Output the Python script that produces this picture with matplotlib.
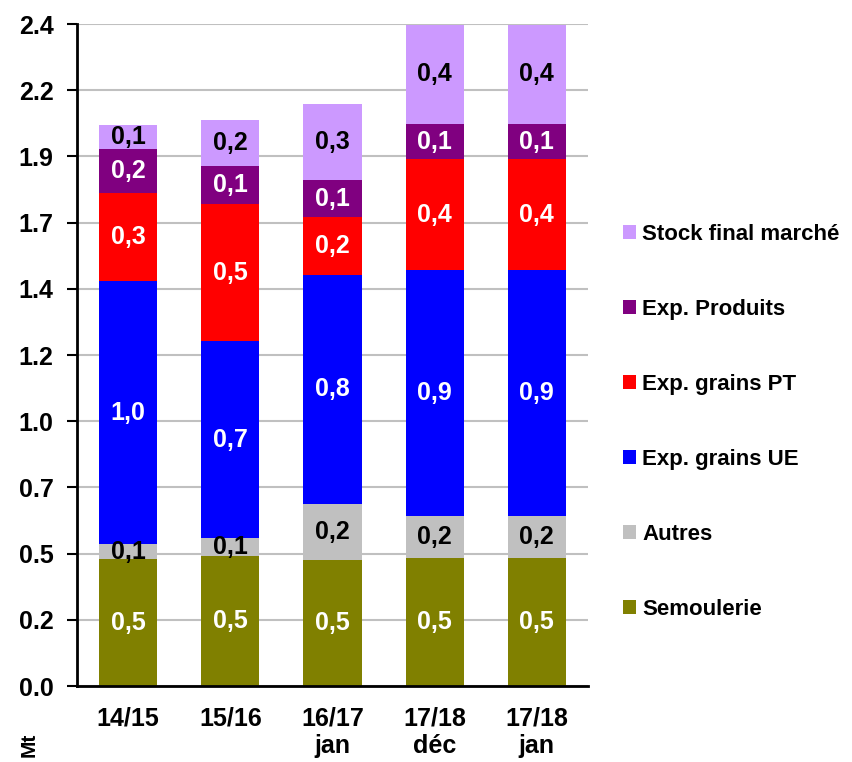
import numpy as np
import matplotlib
matplotlib.use("Agg")
import matplotlib.pyplot as plt
from matplotlib.patches import Patch

plt.rcParams['font.family'] = ['Liberation Sans', 'DejaVu Sans']
plt.rcParams['font.weight'] = 'bold'

# --- données ---
campagnes = ["14/15", "15/16", "16/17\njan", "17/18\ndéc", "17/18\njan"]
semoulerie = [0.460, 0.471, 0.457, 0.464, 0.464]
autres = [0.055, 0.065, 0.203, 0.151, 0.151]
exp_ue = [0.953, 0.714, 0.830, 0.893, 0.893]
exp_pt = [0.319, 0.497, 0.210, 0.402, 0.402]
exp_produits = [0.160, 0.138, 0.134, 0.127, 0.127]
stock_final = [0.087, 0.167, 0.276, 0.360, 0.360]

series = [
    ("Semoulerie", semoulerie, "#808000", "white"),
    ("Autres", autres, "#C0C0C0", "black"),
    ("Exp. grains UE", exp_ue, "#0000FF", "white"),
    ("Exp. grains PT", exp_pt, "#FF0000", "white"),
    ("Exp. Produits", exp_produits, "#800080", "white"),
    ("Stock final marché", stock_final, "#CC99FF", "black"),
]

yticks = [0.0, 0.24, 0.48, 0.72, 0.96, 1.2, 1.44, 1.68, 1.92, 2.16, 2.4]

fig = plt.figure(figsize=(8.52, 7.62), dpi=100)
ax = fig.add_axes([0.0904, 0.0997, 0.5996, 0.8688])

x = np.arange(len(campagnes))
bas = np.zeros(len(campagnes))
for nom, vals, coul, coul_txt in series:
    vals = np.array(vals)
    ax.bar(x, vals, width=0.57, bottom=bas, color=coul, zorder=2)
    for xi, b, v in zip(x, bas, vals):
        ax.text(xi, b + v / 2, f"{v:.1f}".replace('.', ','), ha='center', va='center',
                color=coul_txt, fontsize=18, fontweight='bold', zorder=3)
    bas += vals

ax.set_xlim(-0.5, 4.5)
ax.set_ylim(0, 2.4)
ax.set_yticks(yticks)
ax.set_yticklabels([f"{t:.1f}" for t in yticks])
ax.set_xticks(x)
ax.set_xticklabels(campagnes, linespacing=1.15)
ax.tick_params(axis='y', length=7, width=1.5, pad=10, labelsize=18)
ax.tick_params(axis='x', length=0, pad=15, labelsize=18)
for lab in ax.get_xticklabels() + ax.get_yticklabels():
    lab.set_fontweight('bold')

ax.grid(axis='y', color='#C0C0C0', linewidth=1.5, zorder=0)
ax.set_axisbelow(True)
for s in ['top', 'right']:
    ax.spines[s].set_visible(False)
for s in ['left', 'bottom']:
    ax.spines[s].set_linewidth(2)
    ax.spines[s].set_zorder(4)

# légende (ordre inverse)
handles = [Patch(facecolor=c, edgecolor='none', label=n) for n, _, c, _ in series[::-1]]
fig.legend(handles=handles, loc='center left', bbox_to_anchor=(0.718, 0.446),
           frameon=False, prop={'weight': 'bold', 'size': 16},
           handlelength=0.58, handleheight=0.58, handletextpad=0.3,
           labelspacing=2.43, borderpad=0)

fig.text(0.034, 0.022, "Mt", rotation=90, ha='center', va='center',
         fontsize=15, fontweight='bold')

fig.savefig("out.png", dpi=100)
